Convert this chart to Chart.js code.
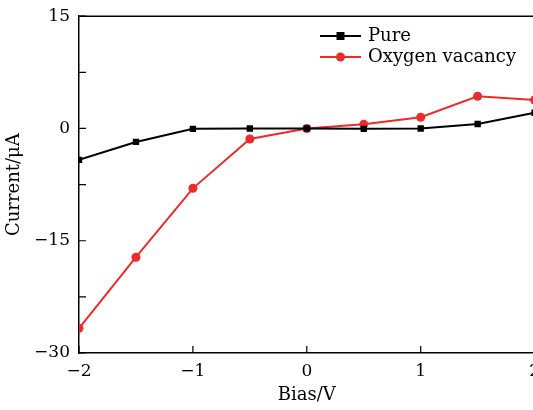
<!DOCTYPE html>
<html>
<head>
<meta charset="utf-8">
<script src="https://cdn.jsdelivr.net/npm/chart.js@4.4.0/dist/chart.umd.min.js"></script>
<style>
  html, body { margin: 0; padding: 0; background: #fff; overflow: hidden; }
  #wrap { width: 548px; height: 413px; position: relative; top: -3px; }
</style>
</head>
<body>
<div id="wrap"><canvas id="chart"></canvas></div>
<script>
// bias values (V)
const bias = [-2, -1.5, -1, -0.5, 0, 0.5, 1, 1.5, 2];
// current (uA)
const pureCurrent = [-4.2, -1.8, -0.05, 0.0, 0.0, -0.05, 0.0, 0.6, 2.1];
const vacancyCurrent = [-26.7, -17.2, -8.0, -1.4, 0.0, 0.55, 1.5, 4.3, 3.8];
const xTicks = [-2, -1, 0, 1, 2];
const yTicks = [-30, -15, 0, 15];

const FONT = "'DejaVu Serif', 'Liberation Serif', serif";
const fmt = v => (v < 0 ? '\u2212' + Math.abs(v) : String(v));

const toPoints = ys => bias.map((x, i) => ({ x, y: ys[i] }));

// inward ticks, top frame and in-plot legend
const frame = {
    id: 'frame',
    afterDatasetsDraw(chart) {
        const { ctx, chartArea: a, scales: { x, y } } = chart;
        ctx.save();
        ctx.strokeStyle = '#000';
        ctx.lineWidth = 1.5;
        ctx.beginPath();
        ctx.moveTo(a.left, a.top); ctx.lineTo(a.right, a.top);
        ctx.moveTo(a.right, a.top); ctx.lineTo(a.right, a.bottom);
        ctx.stroke();

        ctx.lineWidth = 1.2;
        ctx.beginPath();
        for (let v = -30; v <= 15; v += 7.5) {
            const py = y.getPixelForValue(v);
            ctx.moveTo(a.left, py); ctx.lineTo(a.left + 7, py);
        }
        for (let v = -2; v <= 2; v += 1) {
            const px = x.getPixelForValue(v);
            ctx.moveTo(px, a.bottom); ctx.lineTo(px, a.bottom - 7);
        }
        ctx.stroke();

        // legend
        ctx.font = '18px ' + FONT;
        ctx.textBaseline = 'middle';
        chart.data.datasets.forEach((ds, i) => {
            const ly = 39 + i * 21;
            ctx.strokeStyle = ds.borderColor;
            ctx.fillStyle = ds.borderColor;
            ctx.lineWidth = 2;
            ctx.beginPath();
            ctx.moveTo(320, ly); ctx.lineTo(361, ly);
            ctx.stroke();
            if (ds.pointStyle === 'rect') {
                ctx.fillRect(336.5, ly - 4, 8, 8);
            } else {
                ctx.beginPath();
                ctx.arc(340.5, ly, 4.5, 0, Math.PI * 2);
                ctx.fill();
            }
            ctx.fillStyle = '#000';
            ctx.fillText(ds.label, 368, ly);
        });
        ctx.restore();
    }
};

new Chart(document.getElementById('chart'), {
    type: 'line',
    data: {
        datasets: [
            {
                label: 'Pure',
                data: toPoints(pureCurrent),
                borderColor: '#000000',
                backgroundColor: '#000000',
                borderWidth: 2,
                pointStyle: 'rect',
                pointRadius: 4.5,
                pointBorderWidth: 0
            },
            {
                label: 'Oxygen vacancy',
                data: toPoints(vacancyCurrent),
                borderColor: '#ee2b2b',
                backgroundColor: '#ee2b2b',
                borderWidth: 2,
                pointStyle: 'circle',
                pointRadius: 4.5,
                pointBorderWidth: 0
            }
        ]
    },
    options: {
        responsive: true,
        maintainAspectRatio: false,
        animation: false,
        layout: { padding: { top: 7, right: 0, left: 0, bottom: 0 } },
        plugins: {
            legend: { display: false },
            tooltip: { enabled: false }
        },
        scales: {
            x: {
                type: 'linear',
                min: -2, max: 2,
                afterBuildTicks: s => { s.ticks = xTicks.map(v => ({ value: v })); },
                afterFit: s => { s.height = 57; },
                grid: { display: false, drawTicks: false },
                border: { display: true, color: '#000', width: 1.5 },
                ticks: {
                    color: '#000', padding: 8,
                    font: { family: FONT, size: 17 },
                    callback: v => fmt(v)
                },
                title: {
                    display: true, text: 'Bias/V', color: '#000',
                    font: { family: FONT, size: 18 }, padding: { top: 7 }
                }
            },
            y: {
                min: -30, max: 15,
                afterBuildTicks: s => { s.ticks = yTicks.map(v => ({ value: v })); },
                afterFit: s => { s.width = 79; },
                grid: { display: false, drawTicks: false },
                border: { display: true, color: '#000', width: 1.5 },
                ticks: {
                    color: '#000', padding: 9,
                    font: { family: FONT, size: 17 },
                    callback: v => fmt(v)
                },
                title: {
                    display: true, text: 'Current/\u03bcA', color: '#000',
                    font: { family: FONT, size: 18 }, padding: { bottom: 2 }
                }
            }
        }
    },
    plugins: [frame]
});
</script>
</body>
</html>
